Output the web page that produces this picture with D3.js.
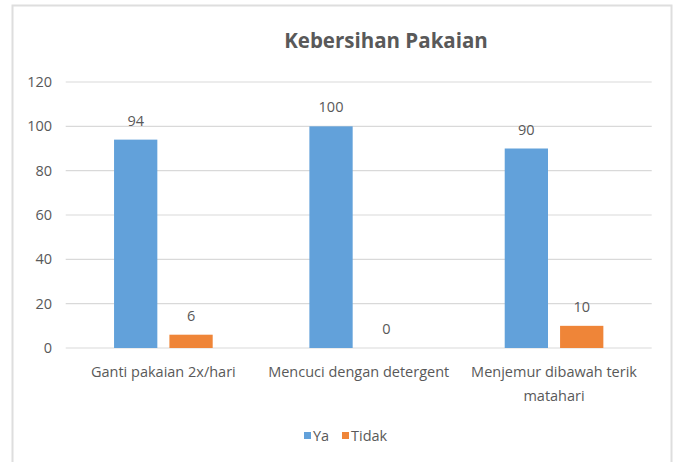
<!DOCTYPE html>
<html>
<head>
<meta charset="utf-8">
<script src="https://cdn.jsdelivr.net/npm/d3@7"></script>
<style>
  body { margin: 0; background: #fff; }
  text { font-family: "Open Sans", sans-serif; fill: #595959; }
</style>
</head>
<body>
<div id="chart"></div>
<script>
// data
const categories = ["Ganti pakaian 2x/hari", "Mencuci dengan detergent", "Menjemur dibawah terik matahari"];
const seriesNames = ["Ya", "Tidak"];
const ya = [94, 100, 90];
const tidak = [6, 0, 10];
const yTicks = [0, 20, 40, 60, 80, 100, 120];
const colors = ["#62A1DA", "#EF8538"];

const width = 677, height = 462;
const plot = {left: 65.7, right: 651.7, top: 82, bottom: 348};

const svg = d3.select("#chart").append("svg")
  .attr("width", width)
  .attr("height", height);

// chart border
svg.append("rect")
  .attr("x", 12.5).attr("y", 5.5)
  .attr("width", 659).attr("height", 470)
  .attr("fill", "none")
  .attr("stroke", "#dedede")
  .attr("stroke-width", 2);

// title
svg.append("text")
  .attr("x", 386).attr("y", 48)
  .attr("text-anchor", "middle")
  .style("font-size", "20.5px")
  .style("font-weight", "bold")
  .text("Kebersihan Pakaian");

// scales
const y = d3.scaleLinear().domain([0, 120]).range([plot.bottom, plot.top]);
const x0 = d3.scaleBand().domain(categories).range([plot.left, plot.right])
  .paddingInner(0.495).paddingOuter(0.2475);
const x1 = d3.scaleBand().domain(seriesNames).range([0, x0.bandwidth()]).paddingInner(0.218);

// gridlines
svg.append("g").selectAll("line")
  .data(yTicks).enter()
  .append("line")
  .attr("x1", plot.left).attr("x2", plot.right)
  .attr("y1", d => y(d)).attr("y2", d => y(d))
  .attr("stroke", "#d9d9d9")
  .attr("stroke-width", 1.2);

// y labels
svg.append("g").selectAll("text")
  .data(yTicks).enter()
  .append("text")
  .attr("x", 52).attr("y", d => y(d) + 5)
  .attr("text-anchor", "end")
  .style("font-size", "14.5px")
  .text(d => d);

// bars
const rows = categories.map((c, i) => ({cat: c, values: [ya[i], tidak[i]]}));
const groups = svg.append("g").selectAll("g")
  .data(rows).enter()
  .append("g")
  .attr("transform", d => "translate(" + x0(d.cat) + ",0)");

groups.selectAll("rect")
  .data(d => d.values.map((v, j) => ({key: seriesNames[j], value: v, j: j})))
  .enter()
  .append("rect")
  .attr("x", d => x1(d.key))
  .attr("y", d => y(d.value))
  .attr("width", x1.bandwidth())
  .attr("height", d => y(0) - y(d.value))
  .attr("fill", d => colors[d.j]);

// value labels
groups.selectAll("text")
  .data(d => d.values.map((v, j) => ({key: seriesNames[j], value: v})))
  .enter()
  .append("text")
  .attr("x", d => x1(d.key) + x1.bandwidth() / 2)
  .attr("y", d => y(d.value) - 14)
  .attr("text-anchor", "middle")
  .style("font-size", "14.5px")
  .text(d => d.value);

// x labels (wrap last one)
const xLabels = [["Ganti pakaian 2x/hari"], ["Mencuci dengan detergent"], ["Menjemur dibawah terik", "matahari"]];
svg.append("g").selectAll("text")
  .data(categories).enter()
  .append("text")
  .attr("text-anchor", "middle")
  .style("font-size", "14.5px")
  .each(function(d, i) {
    const t = d3.select(this);
    xLabels[i].forEach((line, k) => {
      t.append("tspan")
        .attr("x", x0(d) + x0.bandwidth() / 2)
        .attr("y", 377 + k * 24)
        .text(line);
    });
  });

// legend
const legend = svg.append("g").attr("transform", "translate(304,436)");
const legX = [0, 38];
seriesNames.forEach((s, i) => {
  legend.append("rect")
    .attr("x", legX[i]).attr("y", -4)
    .attr("width", 7).attr("height", 7)
    .attr("fill", colors[i]);
  legend.append("text")
    .attr("x", legX[i] + 9).attr("y", 5)
    .style("font-size", "14.5px")
    .text(s);
});
</script>
</body>
</html>
